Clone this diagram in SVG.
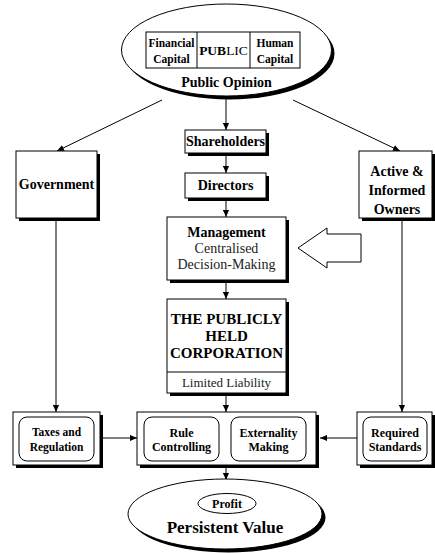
<svg xmlns="http://www.w3.org/2000/svg" width="435" height="553" viewBox="0 0 435 553">
<defs>
<style>
.box{fill:#fff;stroke:#000;stroke-width:1}
.sh{fill:#000}
.rr{fill:#fff;stroke:#000;stroke-width:1}
.ln{fill:none;stroke:#000;stroke-width:1}
text{font-family:"Liberation Serif","Times New Roman",serif;fill:#000;text-anchor:middle}
.b{font-weight:bold}
.r{fill:#222}
</style>
<marker id="ah" viewBox="0 0 8 8" refX="8" refY="4" markerWidth="7" markerHeight="7" markerUnits="userSpaceOnUse" orient="auto">
<path d="M0,0.5 L8,4 L0,7.5 Z" fill="#000"/>
</marker>
</defs>
<rect width="435" height="553" fill="#fff"/>

<g id="connectors">
<line class="ln" x1="226" y1="97" x2="226" y2="130" marker-end="url(#ah)"/>
<line class="ln" x1="226" y1="153" x2="226" y2="173" marker-end="url(#ah)"/>
<line class="ln" x1="226" y1="198" x2="226" y2="217" marker-end="url(#ah)"/>
<line class="ln" x1="226" y1="280" x2="226" y2="299" marker-end="url(#ah)"/>
<line class="ln" x1="226" y1="393" x2="226" y2="412" marker-end="url(#ah)"/>
<line class="ln" x1="226" y1="465" x2="226" y2="480" marker-end="url(#ah)"/>
<line class="ln" x1="162" y1="100" x2="57" y2="151" marker-end="url(#ah)"/>
<line class="ln" x1="293" y1="100" x2="400" y2="151" marker-end="url(#ah)"/>
<line class="ln" x1="56" y1="218" x2="56" y2="412" marker-end="url(#ah)"/>
<line class="ln" x1="402" y1="218" x2="402" y2="412" marker-end="url(#ah)"/>
<line class="ln" x1="103" y1="438" x2="137" y2="438" marker-end="url(#ah)"/>
<line class="ln" x1="357" y1="438" x2="320" y2="438" marker-end="url(#ah)"/>
</g>

<g id="public">
<ellipse cx="229.5" cy="53.5" rx="105" ry="46" class="sh"/>
<ellipse cx="226.5" cy="50" rx="105" ry="46" class="box"/>
<rect x="146" y="32" width="154" height="36" class="box"/>
<line class="ln" x1="197" y1="32" x2="197" y2="68"/>
<line class="ln" x1="250" y1="32" x2="250" y2="68"/>
<text x="171.5" y="47" font-size="11.5" class="b">Financial</text>
<text x="171.5" y="63" font-size="11.5" class="b">Capital</text>
<text x="223.5" y="55" font-size="13.5"><tspan font-weight="bold">PUB</tspan>LIC</text>
<text x="275" y="47" font-size="11.5" class="b">Human</text>
<text x="275" y="63" font-size="11.5" class="b">Capital</text>
<text x="226.5" y="87" font-size="14" class="b">Public Opinion</text>
</g>

<g id="shareholders">
<rect x="188" y="133" width="81" height="23" class="sh"/>
<rect x="185" y="130" width="81" height="23" class="box"/>
<text x="225.5" y="146" font-size="14" class="b">Shareholders</text>
</g>

<g id="directors">
<rect x="188" y="176" width="81" height="25" class="sh"/>
<rect x="185" y="173" width="81" height="25" class="box"/>
<text x="225.5" y="190" font-size="14" class="b">Directors</text>
</g>

<g id="government">
<rect x="19" y="154" width="81" height="67" class="sh"/>
<rect x="16" y="151" width="81" height="67" class="box"/>
<text x="56.5" y="189" font-size="14" class="b">Government</text>
</g>

<g id="owners">
<rect x="362" y="154" width="73" height="67" class="sh"/>
<rect x="359" y="151" width="73" height="67" class="box"/>
<text x="397" y="176" font-size="14" class="b">Active &amp;</text>
<text x="397" y="195" font-size="14" class="b">Informed</text>
<text x="397" y="214" font-size="14" class="b">Owners</text>
</g>

<g id="management">
<rect x="170" y="220" width="119" height="63" class="sh"/>
<rect x="167" y="217" width="119" height="63" class="box"/>
<text x="226.5" y="237" font-size="14" class="b">Management</text>
<text x="226.5" y="253" font-size="14" class="r">Centralised</text>
<text x="226.5" y="269" font-size="14" class="r">Decision-Making</text>
</g>

<g id="influence-arrow">
<polygon points="298,248 327,228 327,234 361,234 361,262 327,262 327,268" class="box"/>
</g>

<g id="corporation">
<rect x="170" y="302" width="119" height="94" class="sh"/>
<rect x="167" y="299" width="119" height="94" class="box"/>
<line class="ln" x1="167" y1="372" x2="286" y2="372"/>
<text x="226.5" y="324" font-size="15" class="b">THE PUBLICLY</text>
<text x="226.5" y="341" font-size="15" class="b">HELD</text>
<text x="226.5" y="358" font-size="15" class="b">CORPORATION</text>
<text x="226.5" y="387" font-size="13" class="r">Limited Liability</text>
</g>

<g id="taxes">
<rect x="16" y="415" width="87" height="53" class="sh"/>
<rect x="13" y="412" width="87" height="53" class="box"/>
<rect x="19" y="417" width="75" height="44" rx="8" class="rr"/>
<text x="56.5" y="436" font-size="11.5" class="b">Taxes and</text>
<text x="56.5" y="451" font-size="11.5" class="b">Regulation</text>
</g>

<g id="controls">
<rect x="140" y="415" width="179" height="53" class="sh"/>
<rect x="137" y="412" width="179" height="53" class="box"/>
<rect x="144" y="417" width="75" height="44" rx="8" class="rr"/>
<rect x="231" y="417" width="75" height="44" rx="8" class="rr"/>
<text x="181.5" y="437" font-size="12" class="b">Rule</text>
<text x="181.5" y="451" font-size="12" class="b">Controlling</text>
<text x="268.5" y="437" font-size="12" class="b">Externality</text>
<text x="268.5" y="451" font-size="12" class="b">Making</text>
</g>

<g id="standards">
<rect x="360" y="415" width="75" height="53" class="sh"/>
<rect x="357" y="412" width="75" height="53" class="box"/>
<rect x="363" y="417" width="64" height="44" rx="8" class="rr"/>
<text x="395" y="437" font-size="12" class="b">Required</text>
<text x="395" y="451" font-size="12" class="b">Standards</text>
</g>

<g id="value">
<ellipse cx="228.5" cy="517.5" rx="97" ry="35" class="sh"/>
<ellipse cx="225" cy="514" rx="97" ry="35" class="box"/>
<ellipse cx="227" cy="503.5" rx="29" ry="10" class="box"/>
<text x="227" y="507.5" font-size="12" class="b">Profit</text>
<text x="225" y="533" font-size="17" class="b">Persistent Value</text>
</g>
</svg>
